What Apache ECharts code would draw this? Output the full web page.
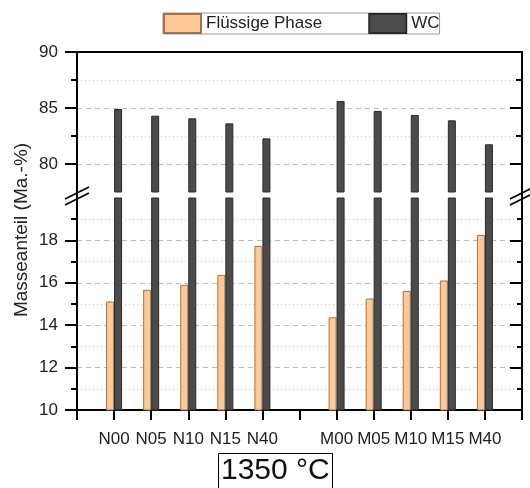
<!DOCTYPE html>
<html>
<head>
<meta charset="utf-8">
<script src="https://cdn.jsdelivr.net/npm/echarts@6/dist/echarts.min.js"></script>
<style>
html,body{margin:0;padding:0;background:#fff;}
#chart{width:530px;height:488px;}
</style>
</head>
<body>
<div id="chart"></div>
<script>
// ---- data ----
var categories = ['', 'N00', 'N05', 'N10', 'N15', 'N40', '', 'M00', 'M05', 'M10', 'M15', 'M40', ''];
var liquidPhase = [null, 15.12, 15.67, 15.91, 16.37, 17.74, null, 14.37, 15.26, 15.62, 16.11, 18.26, null];
var wcPhase = [null, 84.91, 84.31, 84.08, 83.63, 82.29, null, 85.63, 84.74, 84.38, 83.90, 81.76, null];
var upperMajorTicks = [80, 85, 90];
var upperMinorTicks = [82.5, 87.5];
var lowerMajorTicks = [10, 12, 14, 16, 18];
var seriesNames = ['Flüssige Phase', 'WC'];
var titleText = '1350 °C';
var yName = 'Masseanteil (Ma.-%)';

var FONT = '"Liberation Sans", Arial, sans-serif';
var AX = '#000';
var orangeStyle = {color: '#FFC895', borderColor: '#9a7656', borderWidth: 1};
var darkStyle = {color: '#4b4b4b', borderColor: '#2a2a2a', borderWidth: 1};

var chart = echarts.init(document.getElementById('chart'), null, {renderer: 'canvas'});

var gridL = 77, gridR = 8;
var upTop = 52, upH = 140;
var loTop = 198, loH = 212;

function yBase(extra) {
  var o = {
    type: 'value',
    axisLine: {show: false, lineStyle: {color: AX, width: 2}},
    axisTick: {show: false},
    axisLabel: {show: false},
    splitLine: {show: false}
  };
  for (var k in extra) o[k] = extra[k];
  return o;
}

var option = {
  animation: false,
  textStyle: {fontFamily: FONT},
  title: {
    text: titleText,
    left: 218, top: 453,
    padding: [3, 3, 14, 3],
    borderColor: '#000', borderWidth: 1,
    textStyle: {fontSize: 30, fontWeight: 'normal', color: '#111', fontFamily: FONT, lineHeight: 30}
  },
  legend: {
    data: seriesNames,
    left: 163, top: 13,
    padding: 0,
    itemWidth: 37, itemHeight: 19, itemGap: 46,
    borderColor: '#999', borderWidth: 1,
    icon: 'rect',
    textStyle: {fontSize: 17, color: '#222', fontFamily: FONT}
  },
  grid: [
    {left: gridL, right: gridR, top: upTop, height: upH},
    {left: gridL, right: gridR, top: loTop, height: loH}
  ],
  xAxis: [
    {
      type: 'category', gridIndex: 0, data: categories, boundaryGap: false, position: 'top',
      axisLine: {show: true, lineStyle: {color: AX, width: 2}},
      axisTick: {show: false}, axisLabel: {show: false}, splitLine: {show: false}
    },
    {
      type: 'category', gridIndex: 1, data: categories, boundaryGap: false, position: 'bottom',
      axisLine: {show: true, lineStyle: {color: AX, width: 2}},
      axisTick: {show: true, interval: 0, length: 10, lineStyle: {color: AX, width: 2}},
      axisLabel: {show: true, interval: 0, margin: 21, fontSize: 17, color: '#222', fontFamily: FONT},
      splitLine: {show: false}
    }
  ],
  yAxis: [
    // upper left major
    yBase({gridIndex: 0, position: 'left', min: 77.5, max: 90, interval: 2.5,
      axisLine: {show: true, lineStyle: {color: AX, width: 2}},
      axisTick: {show: true, customValues: upperMajorTicks, length: 12, lineStyle: {color: AX, width: 2}},
      axisLabel: {show: true, customValues: upperMajorTicks, margin: 19, fontSize: 17, color: '#222', fontFamily: FONT},
      splitLine: {show: true, lineStyle: {color: '#bdbdbd', type: [5, 4], width: 1}}
    }),
    // upper left minor
    yBase({gridIndex: 0, position: 'left', min: 77.5, max: 90, interval: 2.5,
      axisTick: {show: true, customValues: upperMinorTicks, length: 6, lineStyle: {color: AX, width: 2}},
      splitLine: {show: true, lineStyle: {color: '#c8c8c8', type: [1, 3], width: 1}}
    }),
    // upper right major
    yBase({gridIndex: 0, position: 'right', min: 77.5, max: 90, interval: 2.5,
      axisLine: {show: true, lineStyle: {color: AX, width: 2}},
      axisTick: {show: true, inside: true, customValues: upperMajorTicks, length: 12, lineStyle: {color: AX, width: 2}}
    }),
    // upper right minor
    yBase({gridIndex: 0, position: 'right', min: 77.5, max: 90, interval: 2.5,
      axisTick: {show: true, inside: true, customValues: upperMinorTicks, length: 6, lineStyle: {color: AX, width: 2}}
    }),
    // lower left
    yBase({gridIndex: 1, position: 'left', min: 10, max: 20, interval: 2,
      axisLine: {show: true, lineStyle: {color: AX, width: 2}},
      axisTick: {show: true, customValues: lowerMajorTicks, length: 12, lineStyle: {color: AX, width: 2}},
      minorTick: {show: true, splitNumber: 2, length: 6, lineStyle: {color: AX, width: 2}},
      axisLabel: {show: true, customValues: lowerMajorTicks, margin: 19, fontSize: 17, color: '#222', fontFamily: FONT},
      splitLine: {show: true, lineStyle: {color: '#bdbdbd', type: [5, 4], width: 1}},
      minorSplitLine: {show: true, lineStyle: {color: '#c8c8c8', type: [1, 3], width: 1}}
    }),
    // lower right
    yBase({gridIndex: 1, position: 'right', min: 10, max: 20, interval: 2,
      axisLine: {show: true, lineStyle: {color: AX, width: 2}},
      axisTick: {show: true, inside: true, customValues: lowerMajorTicks, length: 12, lineStyle: {color: AX, width: 2}},
      minorTick: {show: true, splitNumber: 2, length: 5, lineStyle: {color: AX, width: 2}}
    })
  ],
  series: [
    {name: seriesNames[0], type: 'bar', xAxisIndex: 0, yAxisIndex: 0, data: liquidPhase, barWidth: 8, barGap: '0%', itemStyle: orangeStyle, clip: true},
    {name: seriesNames[1], type: 'bar', xAxisIndex: 0, yAxisIndex: 0, data: wcPhase, barWidth: 8, barGap: '0%', itemStyle: darkStyle, clip: true},
    {name: seriesNames[0], type: 'bar', xAxisIndex: 1, yAxisIndex: 4, data: liquidPhase, barWidth: 8, barGap: '0%', itemStyle: orangeStyle, clip: true},
    {name: seriesNames[1], type: 'bar', xAxisIndex: 1, yAxisIndex: 4, data: wcPhase, barWidth: 8, barGap: '0%', itemStyle: darkStyle, clip: true}
  ]
};

// decorations: axis name and break marks
var breakY = (upTop + upH + loTop) / 2 + 1;
var leftX = gridL, rightX = 530 - gridR;
function breakMarks(cx) {
  var els = [
    {type: 'line', shape: {x1: cx, y1: upTop + upH - 1, x2: cx, y2: loTop + 1}, style: {stroke: AX, lineWidth: 2}}
  ];
  [-3, 3].forEach(function (d) {
    els.push({type: 'line', shape: {x1: cx - 12, y1: breakY + d + 6, x2: cx + 12, y2: breakY + d - 6},
      style: {stroke: AX, lineWidth: 1.6}});
  });
  return els;
}
option.graphic = [
  {type: 'text', x: 22, y: 230, rotation: Math.PI / 2,
    style: {text: yName, font: '19px ' + FONT, fill: '#222', align: 'center', verticalAlign: 'middle'}}
].concat(breakMarks(leftX)).concat(breakMarks(rightX));

chart.setOption(option);
</script>
</body>
</html>
